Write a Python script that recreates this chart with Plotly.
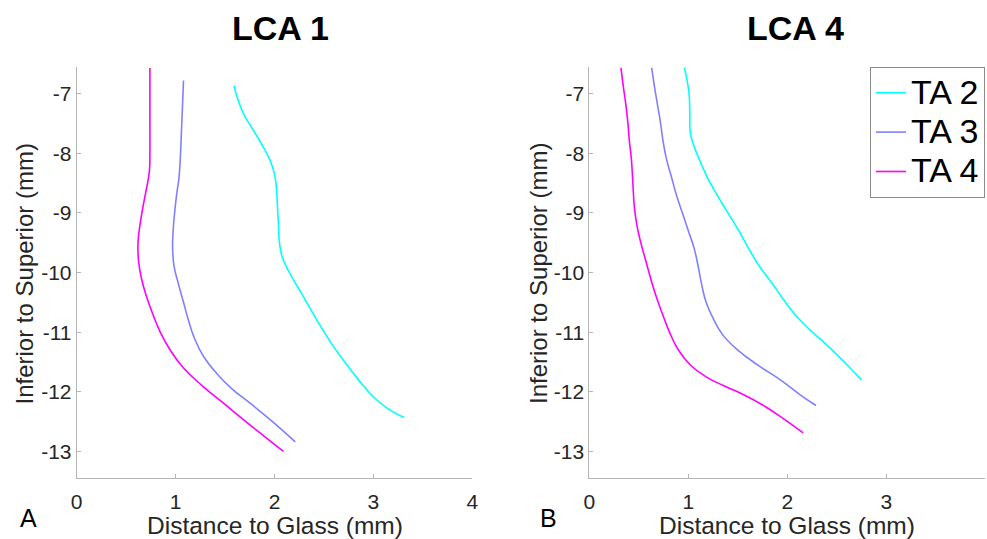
import plotly.graph_objects as go

# ---------------- data ----------------
series_names = ["TA 2", "TA 3", "TA 4"]
series_colors = ["#00FFFF", "#8080FF", "#FF00FF"]

# LCA 1
lca1_ta2_y = [-6.87, -7.10, -7.35, -7.60, -7.85, -8.10, -8.35, -8.60, -8.90, -9.20, -9.50, -9.75, -10.00, -10.30, -10.60, -10.90, -11.20, -11.50, -11.80, -12.10, -12.30, -12.43]
lca1_ta2_x = [1.59, 1.63, 1.69, 1.78, 1.87, 1.95, 2.00, 2.02, 2.03, 2.04, 2.05, 2.08, 2.15, 2.255, 2.36, 2.465, 2.58, 2.71, 2.85, 3.01, 3.16, 3.31]
lca1_ta3_y = [-6.78, -7.20, -7.60, -8.00, -8.40, -8.70, -9.00, -9.30, -9.60, -9.90, -10.20, -10.50, -10.80, -11.10, -11.40, -11.70, -11.95, -12.20, -12.50, -12.84]
lca1_ta3_x = [1.08, 1.07, 1.06, 1.05, 1.035, 1.01, 0.99, 0.975, 0.97, 0.985, 1.03, 1.08, 1.13, 1.19, 1.28, 1.42, 1.57, 1.76, 1.98, 2.21]
lca1_ta4_y = [-6.57, -7.00, -7.50, -8.00, -8.30, -8.60, -8.90, -9.20, -9.50, -9.80, -10.10, -10.40, -10.70, -11.00, -11.30, -11.60, -11.90, -12.20, -12.50, -12.75, -13.00]
lca1_ta4_x = [0.74, 0.74, 0.74, 0.74, 0.735, 0.705, 0.67, 0.64, 0.62, 0.625, 0.655, 0.705, 0.77, 0.845, 0.945, 1.08, 1.27, 1.49, 1.71, 1.90, 2.09]

# LCA 4
lca4_ta2_y = [-6.57, -6.80, -7.05, -7.35, -7.65, -7.85, -8.10, -8.40, -8.70, -9.00, -9.30, -9.60, -9.90, -10.20, -10.45, -10.70, -10.95, -11.20, -11.50, -11.80]
lca4_ta2_x = [0.96, 0.99, 1.01, 1.015, 1.02, 1.05, 1.11, 1.19, 1.29, 1.40, 1.51, 1.61, 1.72, 1.855, 1.96, 2.075, 2.22, 2.39, 2.575, 2.75]
lca4_ta3_y = [-6.57, -6.90, -7.20, -7.50, -7.80, -8.10, -8.40, -8.70, -9.00, -9.30, -9.60, -9.90, -10.20, -10.50, -10.80, -11.05, -11.30, -11.55, -11.80, -12.05, -12.23]
lca4_ta3_x = [0.63, 0.66, 0.69, 0.72, 0.745, 0.78, 0.83, 0.88, 0.94, 1.00, 1.06, 1.10, 1.135, 1.18, 1.26, 1.35, 1.50, 1.70, 1.93, 2.13, 2.29]
lca4_ta4_y = [-6.57, -6.90, -7.20, -7.50, -7.80, -8.10, -8.50, -8.90, -9.20, -9.50, -9.80, -10.10, -10.40, -10.70, -11.00, -11.30, -11.55, -11.75, -11.90, -12.05, -12.25, -12.45, -12.69]
lca4_ta4_x = [0.32, 0.345, 0.37, 0.39, 0.405, 0.425, 0.44, 0.455, 0.48, 0.52, 0.57, 0.62, 0.675, 0.74, 0.81, 0.90, 1.02, 1.18, 1.36, 1.56, 1.78, 1.96, 2.16]

x_ticks = [0, 1, 2, 3, 4]
x_tick_labels = ["0", "1", "2", "3", "4"]
y_ticks = [-13, -12, -11, -10, -9, -8, -7]
y_tick_labels = ["-13", "-12", "-11", "-10", "-9", "-8", "-7"]
x_range = [0, 4]
y_range = [-13.45, -6.55]

panel_titles = ["LCA 1", "LCA 4"]
panel_letters = ["A", "B"]
x_title = "Distance to Glass (mm)"
y_title = "Inferior to Superior (mm)"

# ---------------- figure ----------------
W, H = 987, 539
FONT = "Liberation Sans, Arial, Helvetica, sans-serif"

fig = go.Figure()

panels = [
    ([lca1_ta2_x, lca1_ta3_x, lca1_ta4_x], [lca1_ta2_y, lca1_ta3_y, lca1_ta4_y], "x", "y"),
    ([lca4_ta2_x, lca4_ta3_x, lca4_ta4_x], [lca4_ta2_y, lca4_ta3_y, lca4_ta4_y], "x2", "y2"),
]
for pi, (xs, ys, xa, ya) in enumerate(panels):
    for si in range(3):
        fig.add_trace(go.Scatter(
            x=xs[si], y=ys[si], mode="lines",
            name=f"<span style='font-size:34px'>{series_names[si]}</span>",
            line=dict(color=series_colors[si], width=1.6, shape="spline", smoothing=1.3),
            xaxis=xa, yaxis=ya, showlegend=(pi == 1),
        ))

def px(xp):
    return xp / W

def py(yp):
    return 1 - yp / H

ydom = [py(478.3), py(66.7)]
xdom1 = [px(76.7), px(472.3)]
xdom2 = [px(589.3), px(985.3)]

axis_common = dict(
    showline=True, linecolor="#b5b5b5", linewidth=1,
    ticks="inside", ticklen=4, tickcolor="#b5b5b5", tickwidth=1,
    showgrid=False, zeroline=False,
    tickfont=dict(family=FONT, size=21, color="#262626"),
    mirror=False,
)

fig.update_layout(
    width=W, height=H,
    margin=dict(l=0, r=0, t=0, b=0, autoexpand=False),
    paper_bgcolor="white", plot_bgcolor="white",
    font=dict(family=FONT, color="#000000"),
    xaxis=dict(domain=xdom1, range=x_range, tickvals=x_ticks, ticktext=x_tick_labels,
               anchor="y", ticklabelstandoff=4, **axis_common),
    yaxis=dict(domain=ydom, range=y_range, tickvals=y_ticks, ticktext=y_tick_labels,
               anchor="x", ticklabelstandoff=0, **axis_common),
    xaxis2=dict(domain=xdom2, range=x_range, tickvals=x_ticks, ticktext=x_tick_labels,
                anchor="y2", ticklabelstandoff=4, **axis_common),
    yaxis2=dict(domain=ydom, range=y_range, tickvals=y_ticks, ticktext=y_tick_labels,
                anchor="x2", ticklabelstandoff=0, **axis_common),
    legend=dict(
        x=px(870), y=py(67), xanchor="left", yanchor="top",
        bordercolor="#8a8a8a", borderwidth=1, bgcolor="white",
        font=dict(family=FONT, size=28, color="#000000"),
        itemwidth=30, tracegroupgap=0,
    ),
    showlegend=True,
)

annotations = []
# panel titles
for cx, t in zip([280.5, 795], panel_titles):
    annotations.append(dict(x=px(cx), y=py(28.5), xref="paper", yref="paper", text=f"<b>{t}</b>",
                            showarrow=False, xanchor="center", yanchor="middle",
                            font=dict(family=FONT, size=34, color="#000000")))
# x titles
for cx in [274.5, 787.3]:
    annotations.append(dict(x=px(cx), y=py(525), xref="paper", yref="paper", text=x_title,
                            showarrow=False, xanchor="center", yanchor="middle",
                            font=dict(family=FONT, size=24.5, color="#262626")))
# y titles
for cx in [23.5, 538]:
    annotations.append(dict(x=px(cx), y=py(274), xref="paper", yref="paper", text=y_title,
                            showarrow=False, xanchor="center", yanchor="middle", textangle=-90,
                            font=dict(family=FONT, size=24, color="#262626")))
# panel letters
for cx, t in zip([28.7, 548], panel_letters):
    annotations.append(dict(x=px(cx), y=py(518), xref="paper", yref="paper", text=t,
                            showarrow=False, xanchor="center", yanchor="middle",
                            font=dict(family=FONT, size=25, color="#000000")))
fig.update_layout(annotations=annotations)

fig.write_html("out.html", config={"displayModeBar": False},
               post_script="document.body.style.margin='0px';")
